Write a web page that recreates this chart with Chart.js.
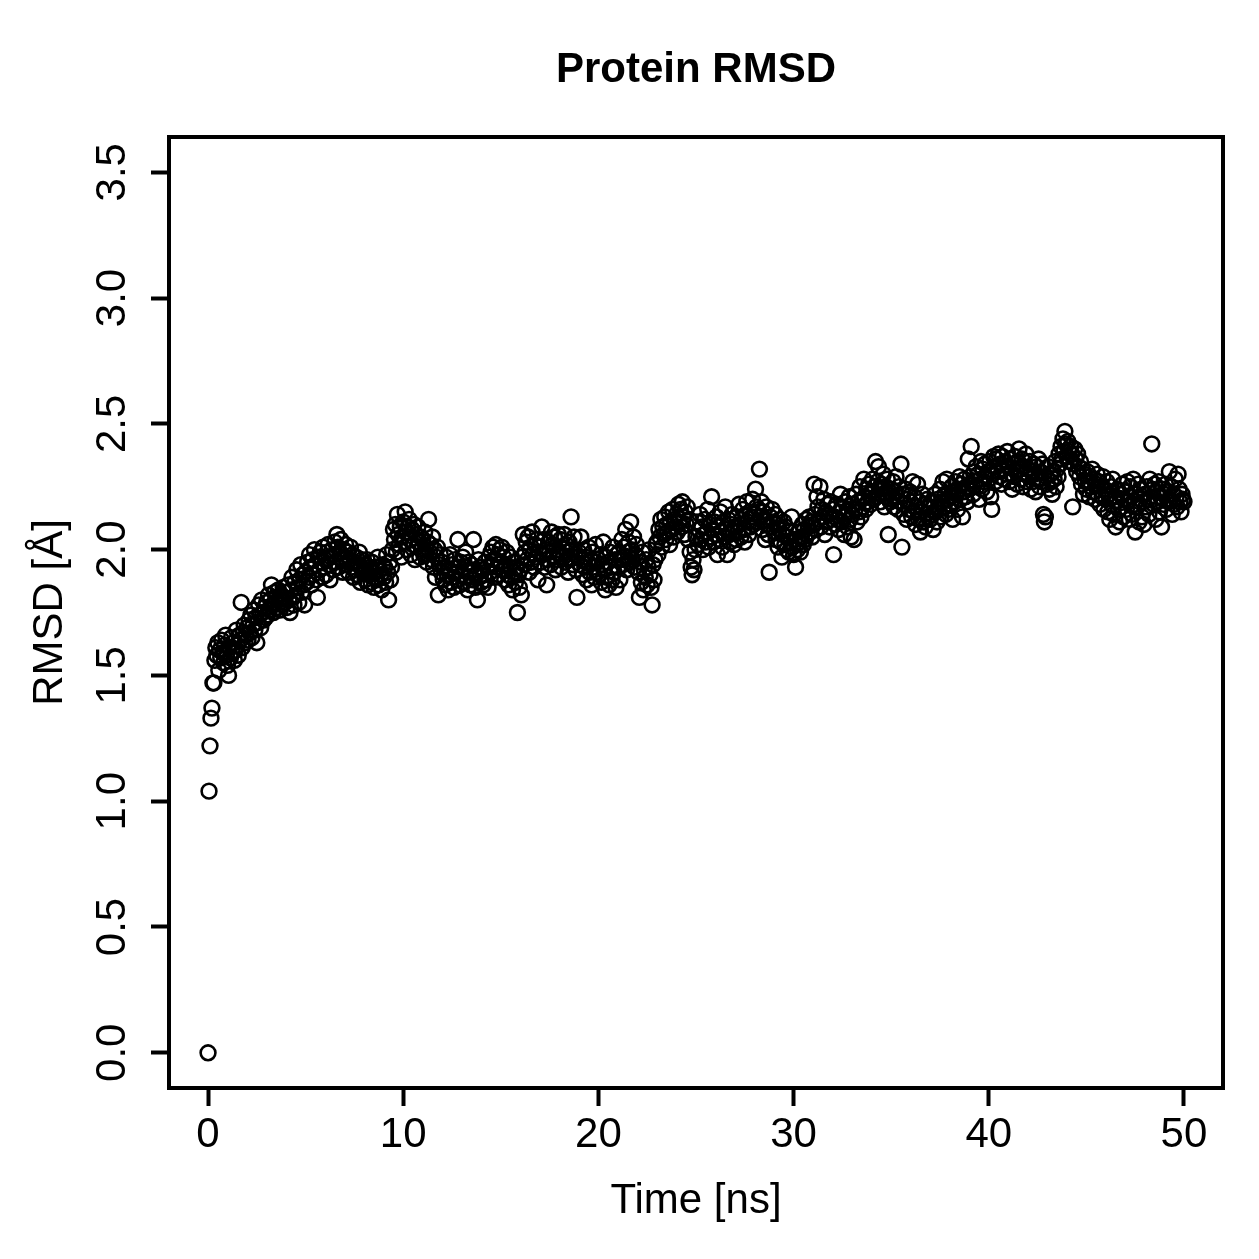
<!DOCTYPE html>
<html>
<head>
<meta charset="utf-8">
<title>Protein RMSD</title>
<script src="https://cdn.jsdelivr.net/npm/chart.js@4.4.1/dist/chart.umd.min.js"></script>
<style>
  html, body { margin: 0; padding: 0; background: #fff; }
  canvas { display: block; }
</style>
</head>
<body>
<canvas id="rmsdChart" width="1259" height="1259"></canvas>
<script>
// one frame saved every 0.05 ns, 0 .. 50 ns
const frameStep = 0.05;

// RMSD per frame [Å], one line per ns
const rmsd = [
    0.00, 1.04, 1.22, 1.33, 1.37, 1.47, 1.47, 1.56, 1.61, 1.58, 1.63, 1.52, 1.60, 1.57, 1.64, 1.59, 1.55, 1.62, 1.66, 1.58,
    1.54, 1.50, 1.61, 1.57, 1.65, 1.59, 1.63, 1.56, 1.60, 1.68, 1.62, 1.58, 1.66, 1.64, 1.79, 1.61, 1.67, 1.70, 1.63, 1.66,
    1.69, 1.64, 1.72, 1.67, 1.74, 1.65, 1.70, 1.76, 1.68, 1.73, 1.63, 1.71, 1.78, 1.74, 1.69, 1.80, 1.75, 1.72, 1.77, 1.73,
    1.79, 1.74, 1.82, 1.76, 1.80, 1.86, 1.78, 1.75, 1.83, 1.79, 1.81, 1.77, 1.84, 1.80, 1.76, 1.82, 1.78, 1.85, 1.81, 1.79,
    1.83, 1.77, 1.86, 1.80, 1.75, 1.84, 1.89, 1.81, 1.78, 1.87, 1.82, 1.92, 1.85, 1.79, 1.88, 1.94, 1.83, 1.90, 1.86, 1.78,
    1.91, 1.87, 1.95, 1.89, 1.98, 1.93, 1.86, 1.96, 1.90, 2.00, 1.94, 1.88, 1.81, 1.97, 1.92, 1.99, 1.95, 1.89, 2.01, 1.93,
    1.96, 1.90, 1.99, 2.02, 1.94, 1.88, 1.97, 2.00, 1.92, 1.98, 2.03, 1.95, 2.06, 2.01, 1.93, 1.99, 2.04, 1.96, 1.91, 2.00,
    1.97, 2.02, 1.94, 1.99, 1.91, 1.96, 2.01, 1.93, 1.98, 1.89, 1.95, 1.92, 1.97, 1.90, 1.94, 1.99, 1.87, 1.93, 1.96, 1.91,
    1.94, 1.88, 1.92, 1.96, 1.86, 1.90, 1.93, 1.87, 1.95, 1.91, 1.85, 1.89, 1.93, 1.88, 1.97, 1.86, 1.92, 1.90, 1.84, 1.94,
    1.89, 1.93, 1.87, 1.98, 1.91, 1.80, 1.95, 1.88, 1.93, 2.00, 2.08, 2.04, 2.10, 1.99, 2.14, 2.06, 2.02, 2.09, 1.97, 2.05,
    2.11, 2.03, 2.15, 2.07, 2.00, 2.09, 2.12, 2.04, 1.98, 2.08, 2.02, 2.10, 1.96, 2.06, 2.01, 2.09, 2.03, 1.97, 2.05, 2.00,
    2.04, 1.98, 2.07, 2.01, 1.95, 2.03, 2.12, 1.99, 2.02, 1.96, 2.05, 1.93, 2.00, 1.89, 1.97, 2.01, 1.82, 1.94, 1.98, 1.91,
    1.95, 1.88, 1.93, 1.86, 1.97, 1.90, 1.84, 1.92, 1.98, 1.87, 1.94, 1.89, 1.85, 1.96, 1.91, 1.88, 2.04, 1.93, 1.86, 1.95,
    1.90, 1.97, 1.87, 1.93, 1.99, 1.89, 1.84, 1.95, 1.91, 1.86, 1.94, 1.88, 2.04, 1.92, 1.85, 1.90, 1.80, 1.96, 1.89, 1.93,
    1.87, 1.92, 1.86, 1.90, 1.95, 1.88, 1.93, 1.85, 1.97, 1.91, 1.99, 1.94, 2.01, 1.96, 1.89, 2.02, 1.93, 1.98, 1.90, 2.00,
    1.95, 2.01, 1.92, 1.97, 1.88, 1.94, 1.99, 1.90, 1.86, 1.93, 1.97, 1.89, 1.84, 1.95, 1.91, 1.87, 1.93, 1.75, 1.90, 1.85,
    1.92, 1.82, 1.97, 2.06, 1.94, 1.99, 2.03, 1.96, 2.05, 1.91, 2.00, 1.95, 2.07, 1.98, 1.93, 2.02, 1.97, 2.04, 1.88, 1.99,
    2.01, 1.95, 2.09, 1.98, 2.04, 1.93, 2.00, 1.86, 1.96, 2.03, 1.99, 1.94, 2.07, 2.02, 1.97, 2.05, 1.92, 2.00, 1.96, 2.06,
    1.98, 2.04, 1.93, 2.01, 1.97, 2.06, 1.95, 2.02, 1.99, 1.91, 2.03, 1.96, 2.13, 2.00, 1.94, 2.05, 1.98, 1.92, 1.81, 1.97,
    1.99, 1.94, 2.05, 1.96, 1.90, 2.00, 1.93, 1.97, 1.88, 1.95, 2.01, 1.91, 1.96, 1.86, 1.99, 1.93, 1.89, 2.02, 1.95, 1.91,
    1.96, 1.90, 1.98, 1.87, 1.94, 2.03, 1.92, 1.84, 1.97, 1.89, 1.95, 1.86, 1.99, 1.93, 1.88, 2.01, 1.91, 1.96, 1.85, 1.98,
    1.93, 1.99, 1.88, 1.96, 2.04, 1.94, 2.01, 1.97, 2.08, 1.92, 1.99, 2.03, 1.95, 2.11, 2.00, 1.96, 2.05, 1.93, 1.98, 2.02,
    1.97, 1.91, 1.81, 1.95, 1.87, 1.99, 1.84, 1.92, 1.89, 1.96, 1.86, 1.93, 2.00, 1.90, 1.85, 1.78, 1.94, 1.88, 1.96, 2.02,
    2.03, 1.98, 2.08, 2.05, 2.12, 2.01, 2.09, 2.06, 2.13, 2.04, 2.10, 2.07, 2.15, 2.02, 2.11, 2.08, 2.16, 2.05, 2.12, 2.09,
    2.14, 2.07, 2.18, 2.11, 2.16, 2.09, 2.19, 2.13, 2.06, 2.15, 2.10, 2.17, 2.04, 2.12, 1.99, 1.93, 1.90, 1.96, 1.92, 2.00,
    2.05, 2.11, 2.02, 2.08, 2.14, 2.04, 2.09, 2.00, 2.06, 2.12, 2.03, 2.07, 2.16, 2.01, 2.10, 2.05, 2.21, 2.08, 2.03, 2.11,
    2.06, 2.13, 1.98, 2.09, 2.04, 2.15, 2.07, 2.01, 2.11, 2.05, 2.17, 2.08, 1.98, 2.12, 2.06, 2.03, 2.10, 2.14, 2.07, 2.02,
    2.09, 2.04, 2.13, 2.07, 2.18, 2.10, 2.05, 2.12, 2.16, 2.08, 2.03, 2.14, 2.19, 2.11, 2.06, 2.15, 2.09, 2.13, 2.20, 2.10,
    2.14, 2.24, 2.17, 2.11, 2.16, 2.32, 2.13, 2.19, 2.08, 2.15, 2.12, 2.04, 2.17, 2.10, 2.06, 1.91, 2.13, 2.09, 2.16, 2.11,
    2.07, 2.14, 2.04, 2.10, 2.01, 2.08, 2.12, 2.03, 1.97, 2.06, 2.11, 2.02, 2.09, 2.00, 2.05, 1.99, 2.07, 2.03, 2.13, 2.01,
    1.98, 2.04, 1.93, 2.02, 2.00, 2.07, 2.03, 1.99, 2.05, 2.10, 2.02, 2.08, 2.04, 2.12, 2.06, 2.09, 2.13, 2.07, 2.11, 2.05,
    2.10, 2.26, 2.14, 2.08, 2.21, 2.17, 2.12, 2.25, 2.09, 2.16, 2.13, 2.20, 2.06, 2.15, 2.11, 2.18, 2.14, 2.09, 2.19, 2.12,
    2.16, 1.98, 2.13, 2.10, 2.18, 2.12, 2.08, 2.15, 2.22, 2.11, 2.17, 2.13, 2.06, 2.19, 2.14, 2.09, 2.16, 2.21, 2.12, 2.05,
    2.14, 2.18, 2.04, 2.16, 2.22, 2.11, 2.19, 2.15, 2.25, 2.13, 2.20, 2.17, 2.28, 2.21, 2.16, 2.24, 2.19, 2.26, 2.22, 2.18,
    2.23, 2.28, 2.20, 2.25, 2.35, 2.21, 2.27, 2.33, 2.24, 2.19, 2.26, 2.22, 2.30, 2.17, 2.25, 2.21, 2.28, 2.06, 2.23, 2.19,
    2.24, 2.20, 2.27, 2.17, 2.23, 2.29, 2.21, 2.16, 2.25, 2.19, 2.34, 2.01, 2.22, 2.14, 2.18, 2.24, 2.12, 2.20, 2.16, 2.23,
    2.19, 2.13, 2.27, 2.15, 2.21, 2.10, 2.17, 2.26, 2.12, 2.19, 2.07, 2.15, 2.22, 2.11, 2.18, 2.09, 2.14, 2.20, 2.13, 2.17,
    2.12, 2.19, 2.14, 2.08, 2.17, 2.22, 2.15, 2.11, 2.20, 2.16, 2.24, 2.13, 2.19, 2.27, 2.17, 2.22, 2.14, 2.28, 2.20, 2.16,
    2.21, 2.18, 2.25, 2.12, 2.23, 2.19, 2.27, 2.22, 2.16, 2.24, 2.29, 2.20, 2.26, 2.13, 2.23, 2.28, 2.21, 2.25, 2.19, 2.36,
    2.24, 2.29, 2.41, 2.26, 2.22, 2.31, 2.27, 2.33, 2.25, 2.30, 2.20, 2.28, 2.35, 2.24, 2.32, 2.27, 2.34, 2.29, 2.23, 2.31,
    2.28, 2.35, 2.21, 2.16, 2.30, 2.37, 2.33, 2.27, 2.36, 2.31, 2.38, 2.29, 2.34, 2.26, 2.37, 2.32, 2.28, 2.35, 2.30, 2.39,
    2.33, 2.27, 2.36, 2.30, 2.24, 2.34, 2.29, 2.37, 2.31, 2.26, 2.35, 2.40, 2.32, 2.28, 2.36, 2.25, 2.33, 2.30, 2.38, 2.27,
    2.32, 2.29, 2.35, 2.24, 2.31, 2.27, 2.34, 2.30, 2.23, 2.33, 2.28, 2.36, 2.25, 2.31, 2.27, 2.34, 2.14, 2.11, 2.13, 2.29,
    2.26, 2.33, 2.24, 2.30, 2.27, 2.22, 2.31, 2.28, 2.35, 2.25, 2.32, 2.29, 2.38, 2.34, 2.41, 2.36, 2.44, 2.39, 2.47, 2.42,
    2.37, 2.43, 2.39, 2.35, 2.41, 2.38, 2.17, 2.34, 2.40, 2.36, 2.31, 2.38, 2.33, 2.29, 2.35, 2.26, 2.32, 2.22, 2.30, 2.27,
    2.24, 2.31, 2.27, 2.21, 2.29, 2.25, 2.32, 2.23, 2.28, 2.20, 2.26, 2.30, 2.22, 2.27, 2.18, 2.25, 2.21, 2.29, 2.16, 2.24,
    2.20, 2.27, 2.15, 2.22, 2.12, 2.25, 2.18, 2.28, 2.14, 2.21, 2.09, 2.19, 2.24, 2.16, 2.11, 2.22, 2.17, 2.26, 2.13, 2.20,
    2.23, 2.16, 2.27, 2.19, 2.12, 2.25, 2.21, 2.14, 2.28, 2.18, 2.07, 2.22, 2.17, 2.26, 2.11, 2.20, 2.24, 2.13, 2.19, 2.10,
    2.22, 2.17, 2.25, 2.20, 2.14, 2.28, 2.21, 2.42, 2.24, 2.18, 2.26, 2.12, 2.23, 2.19, 2.27, 2.15, 2.21, 2.09, 2.24, 2.18,
    2.22, 2.26, 2.16, 2.23, 2.19, 2.31, 2.20, 2.25, 2.14, 2.22, 2.18, 2.28, 2.21, 2.17, 2.30, 2.24, 2.19, 2.15, 2.22, 2.20,
    2.19
];

const xTicks = [0, 10, 20, 30, 40, 50];
const xTickLabels = ['0', '10', '20', '30', '40', '50'];
const yTicks = [0, 0.5, 1, 1.5, 2, 2.5, 3, 3.5];
const yTickLabels = ['0.0', '0.5', '1.0', '1.5', '2.0', '2.5', '3.0', '3.5'];

const fontFamily = '"Liberation Sans", Arial, Helvetica, sans-serif';

const points = rmsd.map((v, i) => ({ x: i * frameStep, y: v }));

// R style box around the plot region
const boxPlugin = {
    id: 'plotBox',
    afterDatasetsDraw(chart) {
        const a = chart.chartArea;
        const c = chart.ctx;
        c.save();
        c.strokeStyle = '#000';
        c.lineWidth = 4;
        c.strokeRect(a.left, a.top, a.right - a.left, a.bottom - a.top);
        c.restore();
    }
};

const tickGrid = {
    display: true,
    drawOnChartArea: false,
    drawTicks: true,
    tickLength: 18,
    tickWidth: 4,
    tickColor: '#000'
};

new Chart(document.getElementById('rmsdChart'), {
    type: 'scatter',
    data: {
        datasets: [{
            data: points,
            pointStyle: 'circle',
            pointRadius: 7.4,
            pointBorderWidth: 2.6,
            pointBorderColor: '#000',
            pointBackgroundColor: 'rgba(0,0,0,0)'
        }]
    },
    options: {
        responsive: false,
        animation: false,
        events: [],
        layout: { padding: { left: 0, right: 36, top: 0, bottom: 0 } },
        plugins: {
            legend: { display: false },
            tooltip: { enabled: false },
            title: {
                display: true,
                text: 'Protein RMSD',
                fullSize: false,
                color: '#000',
                font: { family: fontFamily, size: 42, weight: 'bold' },
                padding: { top: 45, bottom: 41.6 }
            }
        },
        scales: {
            x: {
                type: 'linear',
                min: -2,
                max: 52,
                afterBuildTicks: s => { s.ticks = xTicks.map(v => ({ value: v })); },
                afterFit: s => { s.height = 171; },
                grid: tickGrid,
                border: { display: false },
                ticks: {
                    color: '#000',
                    font: { family: fontFamily, size: 42 },
                    padding: 4,
                    maxRotation: 0,
                    autoSkip: false,
                    callback: (v, i) => xTickLabels[i]
                },
                title: {
                    display: true,
                    text: 'Time [ns]',
                    color: '#000',
                    font: { family: fontFamily, size: 42 },
                    padding: { top: 0, bottom: 32.4 }
                }
            },
            y: {
                type: 'linear',
                min: -0.14,
                max: 3.64,
                afterBuildTicks: s => { s.ticks = yTicks.map(v => ({ value: v })); },
                afterFit: s => { s.width = 169; },
                grid: tickGrid,
                border: { display: false },
                ticks: {
                    color: '#000',
                    font: { family: fontFamily, size: 42 },
                    padding: 8.3,
                    minRotation: 90,
                    maxRotation: 90,
                    crossAlign: 'center',
                    autoSkip: false,
                    callback: (v, i) => yTickLabels[i]
                },
                title: {
                    display: true,
                    text: 'RMSD [Å]',
                    color: '#000',
                    font: { family: fontFamily, size: 42 },
                    padding: { top: 25.2, bottom: 0 }
                }
            }
        }
    },
    plugins: [boxPlugin]
});
</script>
</body>
</html>
